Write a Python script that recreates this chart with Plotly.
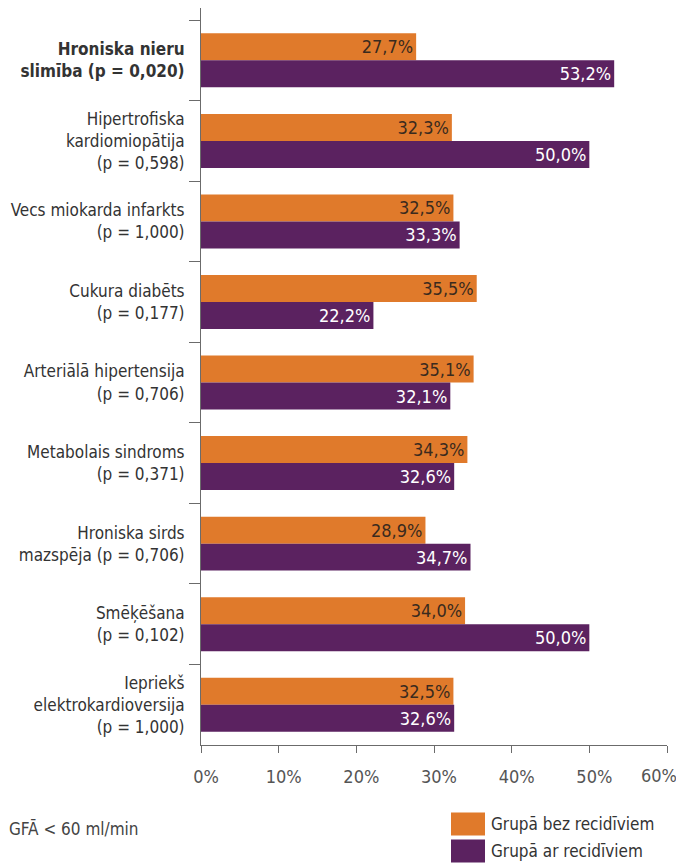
import plotly.graph_objects as go

# Risk factors (top to bottom) with p-values
categories = [
    "<b>Hroniska nieru<br>slimība (p = 0,020)</b>",
    "Hipertrofiska<br>kardiomiopātija<br>(p = 0,598)",
    "Vecs miokarda infarkts<br>(p = 1,000)",
    "Cukura diabēts<br>(p = 0,177)",
    "Arteriālā hipertensija<br>(p = 0,706)",
    "Metabolais sindroms<br>(p = 0,371)",
    "Hroniska sirds<br>mazspēja (p = 0,706)",
    "Smēķēšana<br>(p = 0,102)",
    "Iepriekš<br>elektrokardioversija<br>(p = 1,000)",
]

# Share of patients (%) in each group
bez_recidiviem = [27.7, 32.3, 32.5, 35.5, 35.1, 34.3, 28.9, 34.0, 32.5]
ar_recidiviem = [53.2, 50.0, 33.3, 22.2, 32.1, 32.6, 34.7, 50.0, 32.6]

series_names = ["Grupā bez recidīviem", "Grupā ar recidīviem"]
x_ticks = [0, 10, 20, 30, 40, 50, 60]
x_tick_labels = ["0%", "10%", "20%", "30%", "40%", "50%", "60%"]

ORANGE = "#E07A2B"
PURPLE = "#5B2260"
FONT = "Liberation Sans Narrow, DejaVu Sans Condensed, Roboto Condensed, sans-serif"
AXIS_GREY = "#6b6b6b"

fig = go.Figure()
fig.add_trace(go.Bar(
    name=series_names[0], y=categories, x=bez_recidiviem, orientation="h",
    marker=dict(color=ORANGE, line=dict(width=0)),
    texttemplate="%{x:.1f}%", textposition="inside", insidetextanchor="end",
    textfont=dict(color="#3a2a1e", size=18, family=FONT),
    constraintext="none", showlegend=False,
))
fig.add_trace(go.Bar(
    name=series_names[1], y=categories, x=ar_recidiviem, orientation="h",
    marker=dict(color=PURPLE, line=dict(width=0)),
    texttemplate="%{x:.1f}%", textposition="inside", insidetextanchor="end",
    textfont=dict(color="white", size=18, family=FONT),
    constraintext="none", showlegend=False,
))

fig.update_layout(
    width=676, height=863,
    margin=dict(l=201, r=9, t=8, b=118),
    paper_bgcolor="white", plot_bgcolor="white",
    separators=", ",
    barmode="group", bargap=0.33, bargroupgap=0,
    font=dict(family=FONT, size=17, color="#333333"),
)

# Percent axis: labels sit slightly right of their ticks; the last one
# would run past the page edge, so it is placed just left of its tick.
fig.update_xaxes(
    range=[0, 60.0001], tickmode="array",
    tickvals=x_ticks, ticktext=x_tick_labels,
    showgrid=False, zeroline=False,
    showline=True, linecolor=AXIS_GREY, linewidth=1,
    ticks="outside", ticklen=7, tickcolor=AXIS_GREY,
    ticklabelstandoff=8, ticklabelshift=5,
    tickfont=dict(size=18, color="#555555", family=FONT),
)
fig.add_annotation(
    text=x_tick_labels[-1], xref="x", yref="paper",
    x=x_ticks[-1], y=-30 / 737, xanchor="center", yanchor="middle",
    xshift=-8, showarrow=False,
    font=dict(size=18, color="#555555", family=FONT),
)

fig.update_yaxes(
    type="category", range=[8.5, -0.65],
    tickson="boundaries",
    showgrid=False, zeroline=False,
    showline=True, linecolor=AXIS_GREY, linewidth=1,
    ticks="outside", ticklen=11, tickcolor=AXIS_GREY,
    ticklabelstandoff=12,
    tickfont=dict(size=17, color="#333333", family=FONT),
)

# Note and legend below the plot
fig.add_annotation(
    text="GFĀ < 60 ml/min", xref="paper", yref="paper",
    x=-194 / 466, y=-83 / 737, xanchor="left", yanchor="middle",
    showarrow=False, font=dict(size=17, color="#444444", family=FONT),
)
legend_rows = [(series_names[0], ORANGE, -79), (series_names[1], PURPLE, -106)]
for label, color, dy in legend_rows:
    y0 = dy / 737
    fig.add_shape(
        type="rect", xref="paper", yref="paper",
        x0=(451 - 201) / 466, x1=(485 - 201) / 466,
        y0=y0 - 11.5 / 737, y1=y0 + 11.5 / 737,
        fillcolor=color, line=dict(width=0),
    )
    fig.add_annotation(
        text=label, xref="paper", yref="paper",
        x=(489 - 201) / 466, y=y0, xanchor="left", yanchor="middle",
        showarrow=False, font=dict(size=17, color="#333333", family=FONT),
    )

fig.write_html("out.html")
